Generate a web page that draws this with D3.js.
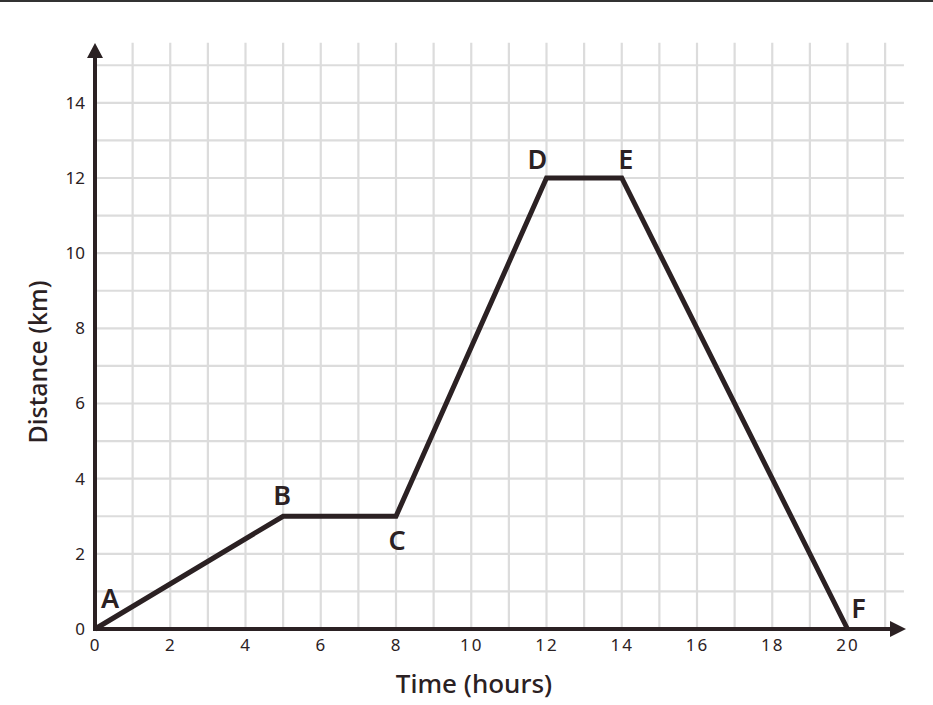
<!DOCTYPE html>
<html>
<head>
<meta charset="utf-8">
<script src="https://cdn.jsdelivr.net/npm/d3@7"></script>
<style>
  body { margin: 0; background: #fff; }
  svg { display: block; font-family: "Noto Sans", sans-serif; }
</style>
</head>
<body>
<div id="chart"></div>
<script>
// journey points
const pointNames = ["A", "B", "C", "D", "E", "F"];
const hours = [0, 5, 8, 12, 14, 20];
const distance = [0, 3, 3, 12, 12, 0];

const xTicks = [0, 2, 4, 6, 8, 10, 12, 14, 16, 18, 20];
const yTicks = [0, 2, 4, 6, 8, 10, 12, 14];
const xGrid = d3.range(1, 22);
const yGrid = d3.range(1, 16);

const ink = "#2b2123";
const width = 933, height = 705;

const svg = d3.select("#chart")
    .append("svg")
    .attr("width", width)
    .attr("height", height);

// thin frame line across the top
svg.append("rect")
    .attr("x", 0).attr("y", 0)
    .attr("width", width).attr("height", 2)
    .attr("fill", "#333");

const x = d3.scaleLinear().domain([0, 20]).range([95, 847.5]);
const y = d3.scaleLinear().domain([0, 12]).range([629, 178]);

// grid
svg.selectAll(".vgrid")
    .data(xGrid)
    .enter()
    .append("line")
    .attr("x1", d => x(d)).attr("x2", d => x(d))
    .attr("y1", y(15.6)).attr("y2", y(0))
    .attr("stroke", "#dcdcdc")
    .attr("stroke-width", 2.2);

svg.selectAll(".hgrid")
    .data(yGrid)
    .enter()
    .append("line")
    .attr("x1", x(0)).attr("x2", x(21.5))
    .attr("y1", d => y(d)).attr("y2", d => y(d))
    .attr("stroke", "#dcdcdc")
    .attr("stroke-width", 2.2);

// tick labels via d3 axes
const xAxis = svg.append("g")
    .attr("transform", `translate(0,${y(0)})`)
    .call(d3.axisBottom(x).tickValues(xTicks).tickSize(0).tickPadding(10));
xAxis.select(".domain").remove();
xAxis.selectAll("text")
    .attr("font-size", 17)
    .attr("letter-spacing", 2)
    .attr("font-family", "Noto Sans")
    .attr("fill", ink);

const yAxis = svg.append("g")
    .attr("transform", `translate(${x(0)},0)`)
    .call(d3.axisLeft(y).tickValues(yTicks).tickSize(0).tickPadding(10));
yAxis.select(".domain").remove();
yAxis.selectAll("text")
    .attr("font-size", 17)
    .attr("font-family", "Noto Sans")
    .attr("fill", ink);

// axis lines with arrow heads
svg.append("line")
    .attr("x1", x(0)).attr("x2", x(0))
    .attr("y1", y(0) + 2).attr("y2", 56)
    .attr("stroke", ink).attr("stroke-width", 4);
svg.append("path")
    .attr("d", `M${x(0)},43 L${x(0) - 8},58 L${x(0) + 8},58 Z`)
    .attr("fill", ink);

svg.append("line")
    .attr("x1", x(0) - 2).attr("x2", 892)
    .attr("y1", y(0)).attr("y2", y(0))
    .attr("stroke", ink).attr("stroke-width", 4);
svg.append("path")
    .attr("d", `M906,${y(0)} L890,${y(0) - 8} L890,${y(0) + 8} Z`)
    .attr("fill", ink);

// journey line
const pts = hours.map((h, i) => [h, distance[i]]);
svg.append("path")
    .datum(pts)
    .attr("d", d3.line().x(d => x(d[0])).y(d => y(d[1])))
    .attr("fill", "none")
    .attr("stroke", ink)
    .attr("stroke-width", 5)
    .attr("stroke-linejoin", "miter");

// point labels
const labelOffset = [[15, -32], [-1, -22], [1, 23], [-9, -20], [4, -20], [11, -22]];
svg.selectAll(".plabel")
    .data(pointNames)
    .enter()
    .append("text")
    .attr("x", (d, i) => x(hours[i]) + labelOffset[i][0])
    .attr("y", (d, i) => y(distance[i]) + labelOffset[i][1])
    .attr("text-anchor", "middle")
    .attr("dominant-baseline", "central")
    .attr("font-size", 27)
    .attr("font-weight", 600)
    .attr("fill", ink)
    .text(d => d);

// axis titles
svg.append("text")
    .attr("x", 474).attr("y", 693)
    .attr("text-anchor", "middle")
    .attr("font-size", 26)
    .attr("font-weight", 500)
    .attr("fill", ink)
    .text("Time (hours)");

svg.append("text")
    .attr("transform", "translate(47,362) rotate(-90)")
    .attr("text-anchor", "middle")
    .attr("font-size", 25)
    .attr("font-weight", 500)
    .attr("fill", ink)
    .text("Distance (km)");
</script>
</body>
</html>
